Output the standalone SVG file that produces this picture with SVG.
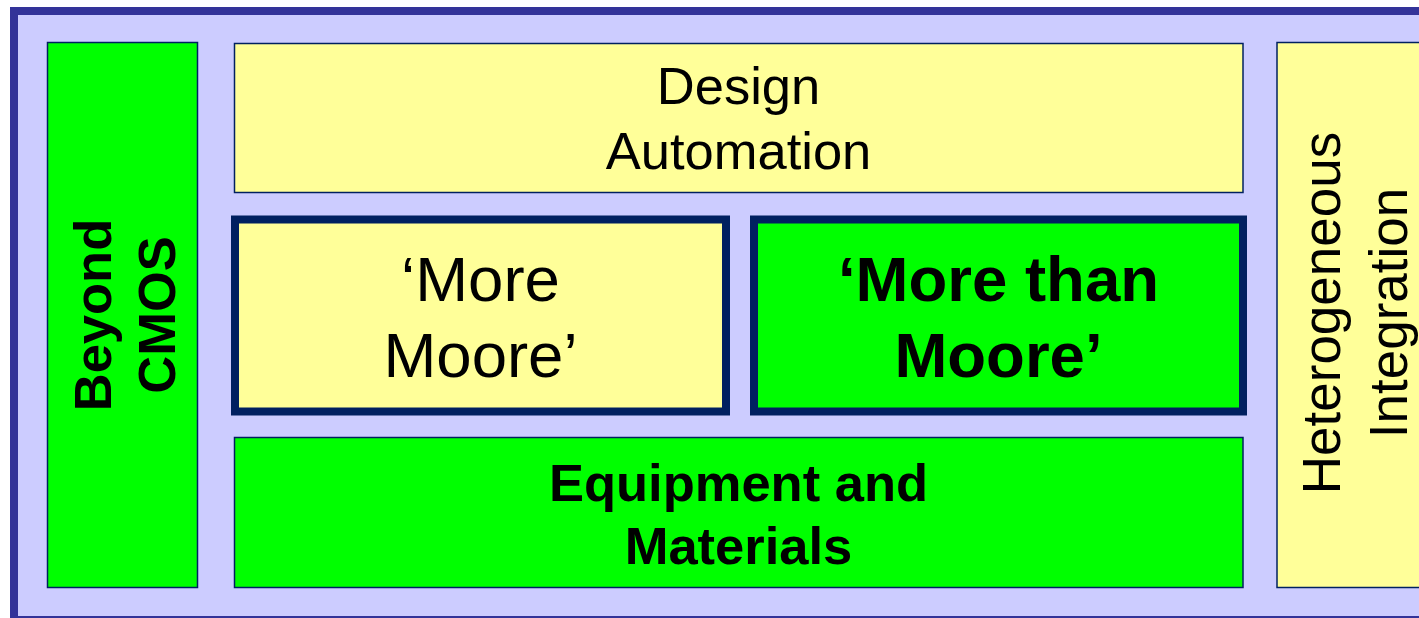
<svg xmlns="http://www.w3.org/2000/svg" width="1419" height="618" viewBox="0 0 1419 618">
<style>
.frame{fill:#CCCCFF;stroke:#333399;stroke-width:8}
.box{stroke:#002060;stroke-width:1.5}
.thick{stroke:#002060;stroke-width:8}
.y{fill:#FFFF99}
.g{fill:#00FF00}
text{font-family:"Liberation Sans",Arial,sans-serif;fill:#000;text-anchor:middle}
.b{font-weight:bold}
</style>
<rect width="1419" height="618" fill="#FFFFFF"/>
<g id="frame"><rect class="frame" x="14" y="11" width="1420" height="609"/></g>
<g id="connectors"></g>
<g id="beyond-cmos">
<rect class="box g" x="47.5" y="42.5" width="150" height="545"/>
<g transform="translate(0,315) rotate(-90)">
<text class="b" x="0" y="111" font-size="52.5">Beyond</text>
<text class="b" x="0" y="175" font-size="52.5">CMOS</text>
</g>
</g>
<g id="design-automation">
<rect class="box y" x="234.5" y="43.5" width="1008.5" height="149"/>
<text x="738.5" y="104" font-size="52.5">Design</text>
<text x="738.5" y="169" font-size="52.5">Automation</text>
</g>
<g id="more-moore">
<rect class="thick y" x="235" y="219.5" width="491" height="192"/>
<text x="480.5" y="301" font-size="63.5">‘More</text>
<text x="480.5" y="377" font-size="63.5">Moore’</text>
</g>
<g id="more-than-moore">
<rect class="thick g" x="754" y="219.5" width="489" height="192"/>
<text class="b" x="998.5" y="301" font-size="63.5">‘More than</text>
<text class="b" x="998.5" y="377" font-size="63.5">Moore’</text>
</g>
<g id="equipment-materials">
<rect class="box g" x="234.5" y="437.5" width="1008.5" height="150"/>
<text class="b" x="738.5" y="501" font-size="52.5">Equipment and</text>
<text class="b" x="738.5" y="564" font-size="52.5">Materials</text>
</g>
<g id="heterogeneous-integration">
<rect class="box y" x="1277" y="42.5" width="160" height="545"/>
<g transform="translate(0,313) rotate(-90)">
<text x="0" y="1340" font-size="53">Heterogeneous</text>
<text x="0" y="1407" font-size="53">Integration</text>
</g>
</g>
</svg>
